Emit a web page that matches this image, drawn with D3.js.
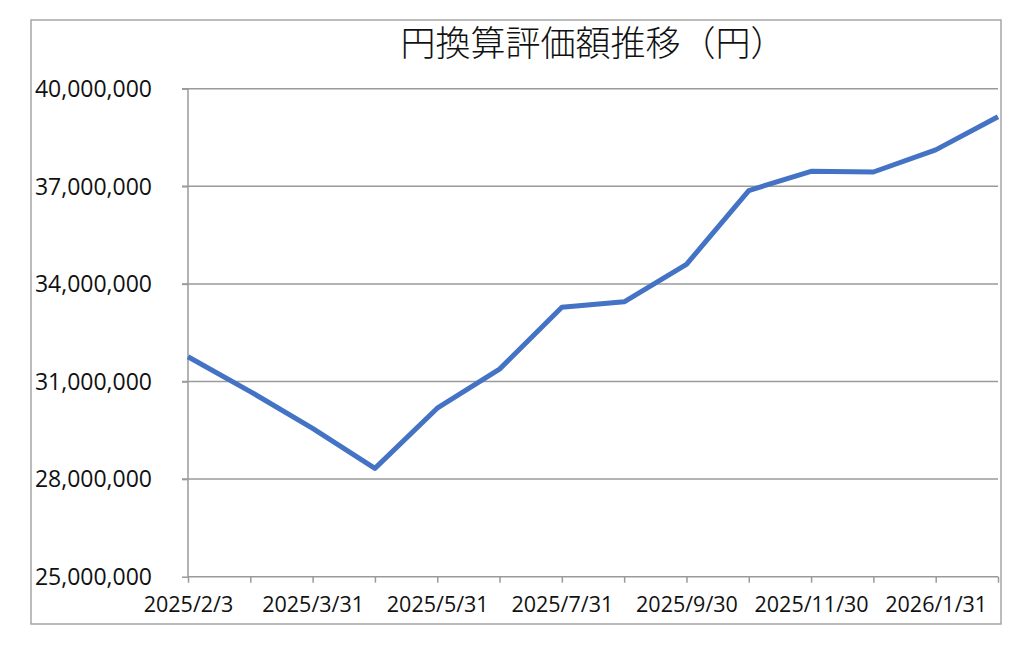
<!DOCTYPE html>
<html>
<head>
<meta charset="utf-8">
<script src="https://cdn.jsdelivr.net/npm/d3@7"></script>
<style>
  html, body { margin: 0; padding: 0; background: #fff; }
  svg { display: block; }
</style>
</head>
<body>
<svg id="chart" width="1024" height="645"></svg>
<script>
const title = "円換算評価額推移（円）";
const categories = ["2025/2/3","2025/2/28","2025/3/31","2025/4/30","2025/5/31","2025/6/30","2025/7/31","2025/8/31","2025/9/30","2025/10/31","2025/11/30","2025/12/31","2026/1/31","2026/2/28"];
const values = [31760000, 30690000, 29560000, 28330000, 30180000, 31380000, 33280000, 33450000, 34600000, 36870000, 37460000, 37440000, 38120000, 39140000];
const yTicks = [25000000, 28000000, 31000000, 34000000, 37000000, 40000000];
const labelEvery = 2;

(function () {
const svg = d3.select("#chart");
const pL = 188, pR = 998, pT = 88.7, pB = 576.7;

// outer chart border
svg.append("rect").attr("x", 31).attr("y", 20).attr("width", 970).attr("height", 604)
  .attr("fill", "#fff").attr("stroke", "#a6a6a6").attr("stroke-width", 1.5);

const x = d3.scalePoint().domain(categories).range([pL, pR]).padding(0);
const y = d3.scaleLinear().domain([25000000, 40000000]).range([pB, pT]);

// gridlines
svg.append("g").selectAll("line").data(yTicks.filter(d => d !== 25000000)).join("line")
  .attr("x1", pL - 6).attr("x2", pR).attr("y1", d => y(d)).attr("y2", d => y(d))
  .attr("stroke", "#9a9a9a").attr("stroke-width", 1.5);

// y axis
const yAxis = d3.axisLeft(y).tickValues(yTicks).tickSize(6).tickPadding(30)
  .tickFormat(d3.format(","));
const gy = svg.append("g").attr("transform", `translate(${pL},0)`).call(yAxis);
gy.select(".domain").attr("stroke", "#9a9a9a").attr("stroke-width", 1.5).attr("d", `M0,${pT}V${pB}`);
gy.selectAll(".tick line").attr("stroke", "#9a9a9a").attr("stroke-width", 1.5);
gy.selectAll(".tick text").attr("font-family", "'Open Sans', sans-serif").attr("font-size", 23)
  .attr("fill", "#111").attr("dy", "0.34em");

// x axis
const xAxis = d3.axisBottom(x).tickSize(6).tickPadding(14)
  .tickFormat((d, i) => i % labelEvery === 0 ? d : "");
const gx = svg.append("g").attr("transform", `translate(0,${pB})`).call(xAxis);
gx.select(".domain").attr("stroke", "#9a9a9a").attr("stroke-width", 1.5).attr("d", `M${pL},0H${pR}`);
gx.selectAll(".tick line").attr("stroke", "#9a9a9a").attr("stroke-width", 1.5);
gx.selectAll(".tick text").attr("font-family", "'Open Sans', sans-serif").attr("font-size", 21.5)
  .attr("fill", "#111").attr("dy", "0.71em");

// line
const line = d3.line().x((d, i) => x(categories[i])).y(d => y(d));
svg.append("path").datum(values).attr("d", line)
  .attr("fill", "none").attr("stroke", "#4472C4").attr("stroke-width", 5)
  .attr("stroke-linejoin", "round").attr("stroke-linecap", "butt");

// title
svg.append("text").attr("x", (pL + pR) / 2).attr("y", 40)
  .attr("text-anchor", "middle").attr("dominant-baseline", "central")
  .attr("font-family", "'Noto Sans CJK JP', sans-serif").attr("font-weight", 300)
  .attr("font-size", 35).attr("fill", "#111").text(title);
})();
</script>
</body>
</html>
